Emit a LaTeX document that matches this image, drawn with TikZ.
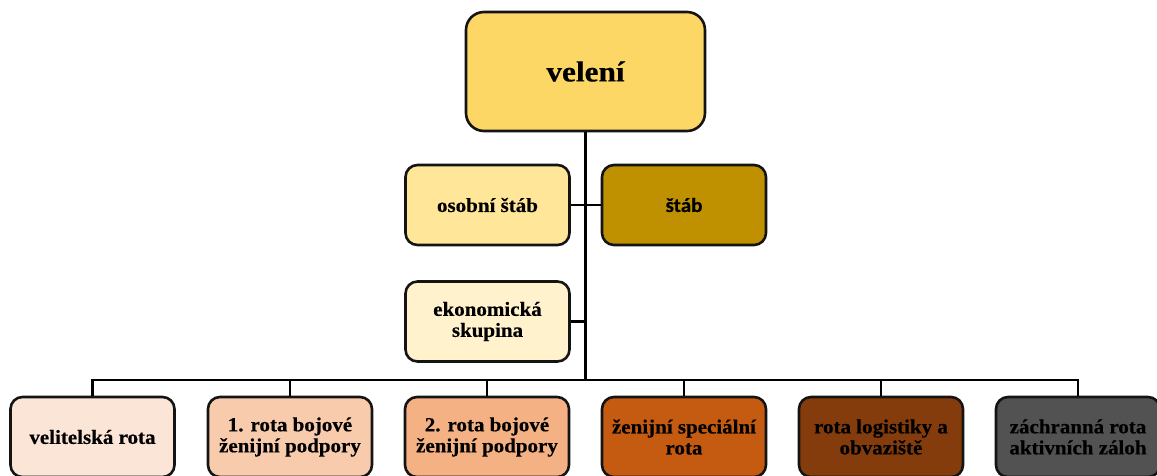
\documentclass[tikz,border=0pt]{standalone}
\usepackage{fontspec}
\setmainfont[FakeStretch=1.05, BoldFeatures={FakeBold=0.4}]{Liberation Serif}
\newfontfamily\carlitofont[FakeStretch=1.05, BoldFeatures={FakeBold=0.4}]{Carlito}
\newfontfamily\velfont[FakeStretch=1.08, BoldFeatures={FakeBold=0.4}]{Liberation Serif}
\definecolor{cVel}{HTML}{FDD766}
\definecolor{cOso}{HTML}{FFE699}
\definecolor{cStab}{HTML}{BF9000}
\definecolor{cEko}{HTML}{FFF2CC}
\definecolor{cB1}{HTML}{FBE5D6}
\definecolor{cB2}{HTML}{F8CBAD}
\definecolor{cB3}{HTML}{F4B183}
\definecolor{cB4}{HTML}{C55A11}
\definecolor{cB5}{HTML}{843C0C}
\definecolor{cB6}{HTML}{525252}
\begin{document}
\begin{tikzpicture}[x=1pt,y=-1pt,
  box/.style={draw=black!92, line width=2.6pt, rounded corners=12pt, minimum width=164pt, minimum height=80pt, inner sep=2pt, align=center, text=black, font=\fontsize{20}{21}\selectfont\bfseries},
  conn/.style={draw=black, line width=2.5pt}]
\useasboundingbox (0,0) rectangle (1157,475);
\clip (0,0) rectangle (1157,475);
\node[box, fill=cVel, minimum width=239pt, minimum height=119pt, rounded corners=18pt, font=\fontsize{29}{32}\velfont\bfseries] (vel) at (585.5,71.5) {velení};
\node[box, fill=cOso] (oso) at (487.5,205) {osobní štáb};
\node[box, fill=cStab, font=\fontsize{20}{21}\selectfont\carlitofont\bfseries] (stab) at (684,205) {štáb};
\node[box, fill=cEko] (eko) at (487.5,321.5) {ekonomická\\skupina};
\node[box, fill=cB1] (b1) at (92.5,437) {velitelská rota};
\node[box, fill=cB2] (b2) at (290,437) {1. rota bojové\\ženijní podpory};
\node[box, fill=cB3] (b3) at (487,437) {2. rota bojové\\ženijní podpory};
\node[box, fill=cB4] (b4) at (684,437) {ženijní speciální\\rota};
\node[box, fill=cB5] (b5) at (881,437) {rota logistiky a\\obvaziště};
\node[box, fill=cB6] (b6) at (1078,437) {záchranná rota\\aktivních záloh};
\coordinate (bus) at (585.5,380);
\coordinate (ekoj) at (585.5,321.5);
\coordinate (busL) at (92.5,380);
\coordinate (busR) at (1078,380);
\draw[conn] (vel.south) -- (bus);
\draw[conn] (oso.east) -- (stab.west);
\draw[conn] (eko.east) -- (ekoj);
\draw[conn, line cap=rect] (busL) -- (busR);
\foreach \n in {b1,b2,b3,b4,b5,b6}{
  \draw[conn] (\n.north |- bus) -- (\n.north);
}
\end{tikzpicture}
\end{document}
